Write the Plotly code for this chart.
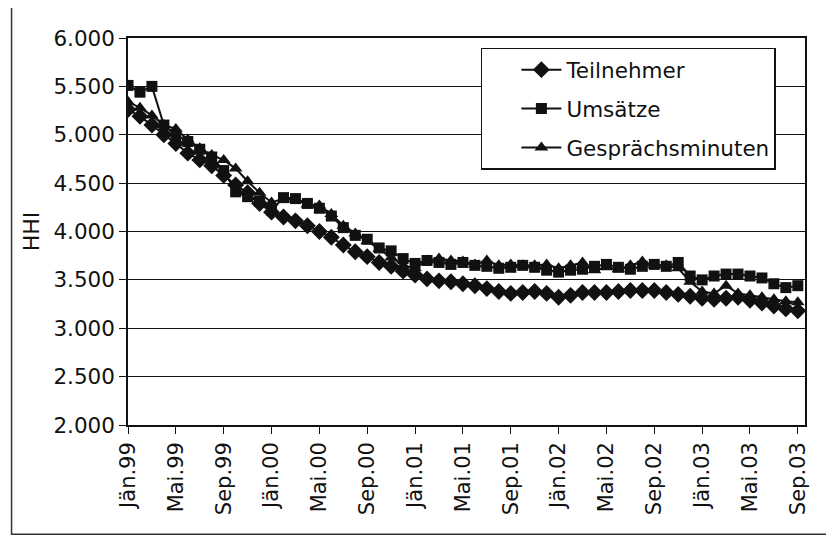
import plotly.graph_objects as go

# months Jän.99 .. Sep.03 (index 0..56)
month_labels = ["Jän.99", "Mai.99", "Sep.99", "Jän.00", "Mai.00", "Sep.00", "Jän.01",
                "Mai.01", "Sep.01", "Jän.02", "Mai.02", "Sep.02", "Jän.03", "Mai.03", "Sep.03"]

teilnehmer = [5260, 5190, 5100, 5000, 4910, 4810, 4740, 4680, 4580, 4480, 4400, 4290,
              4200, 4150, 4110, 4060, 4000, 3940, 3860, 3790, 3740, 3680, 3640, 3590,
              3550, 3510, 3490, 3480, 3460, 3440, 3410, 3380, 3360, 3370, 3380, 3360,
              3320, 3340, 3370, 3370, 3370, 3380, 3390, 3390, 3390, 3370, 3350, 3330,
              3310, 3300, 3310, 3320, 3290, 3260, 3230, 3200, 3180]

umsaetze = [5510, 5440, 5500, 5100, 5000, 4930, 4850, 4770, 4630, 4410, 4360, 4310,
            4220, 4350, 4340, 4290, 4240, 4160, 4040, 3960, 3920, 3830, 3800, 3720,
            3670, 3700, 3680, 3660, 3680, 3650, 3640, 3620, 3630, 3650, 3630, 3600,
            3580, 3600, 3610, 3640, 3660, 3630, 3610, 3640, 3660, 3640, 3680, 3540,
            3500, 3540, 3560, 3560, 3540, 3520, 3460, 3420, 3440]

minuten = [5340, 5280, 5200, 5100, 5060, 4950, 4860, 4790, 4740, 4650, 4520, 4400,
           4300, 4340, 4330, 4280, 4270, 4180, 4060, 3980, 3900, 3820, 3730, 3650,
           3620, 3700, 3720, 3700, 3690, 3660, 3700, 3650, 3660, 3650, 3650, 3660,
           3620, 3650, 3680, 3600, 3630, 3610, 3650, 3690, 3650, 3650, 3620, 3480,
           3380, 3360, 3440, 3360, 3340, 3320, 3300, 3280, 3270]

months = list(range(len(teilnehmer)))
tick_pos = months[::4]

FONT = "DejaVu Sans"
INK = "#111111"

fig = go.Figure()
series = [("Teilnehmer", teilnehmer, "diamond", 13),
          ("Umsätze", umsaetze, "square", 11),
          ("Gesprächsminuten", minuten, "triangle-up", 12)]
for name, vals, sym, size in series:
    fig.add_trace(go.Scatter(
        x=months, y=vals, name=name, mode="lines+markers", legendgroup=name,
        line=dict(color=INK, width=2),
        marker=dict(symbol=sym, size=size, color=INK),
    ))

# the page body adds an 8px offset, so margins are shifted to keep the plot area in place
fig.update_layout(
    width=834, height=538,
    margin=dict(l=120, r=37, t=30, b=121, autoexpand=False),
    paper_bgcolor="white", plot_bgcolor="white",
    font=dict(family=FONT, color=INK, size=21),
    showlegend=True,
    legend=dict(x=0.957, y=0.975, xanchor="right", yanchor="top",
                bordercolor=INK, borderwidth=1.5, bgcolor="white",
                font=dict(size=21.5), itemwidth=40, tracegroupgap=8,
                indentation=34),
    separators=",.",
)
fig.update_xaxes(
    range=[0, 56.6], tickvals=tick_pos, ticktext=month_labels, tickangle=-90,
    ticks="outside", ticklen=7, tickcolor=INK, showline=True, linecolor=INK,
    linewidth=1.5, mirror=True, showgrid=False, zeroline=False,
    tickfont=dict(size=21),
)
fig.update_yaxes(
    range=[2000, 6000], dtick=500, tickformat=",.0f",
    title=dict(text="HHI", font=dict(size=22), standoff=8),
    ticks="outside", ticklen=7, tickcolor=INK, showline=True, linecolor=INK,
    linewidth=1.5, mirror=True, showgrid=True, gridcolor=INK, gridwidth=1.2,
    zeroline=False, tickfont=dict(size=21.5),
)

# outer chart frame
fig.add_shape(type="rect", xref="paper", yref="paper",
              x0=-0.172, x1=1.033, y0=-0.282, y1=1.09,
              line=dict(color="#333333", width=1.5), layer="below")

fig.write_html("out.html")
